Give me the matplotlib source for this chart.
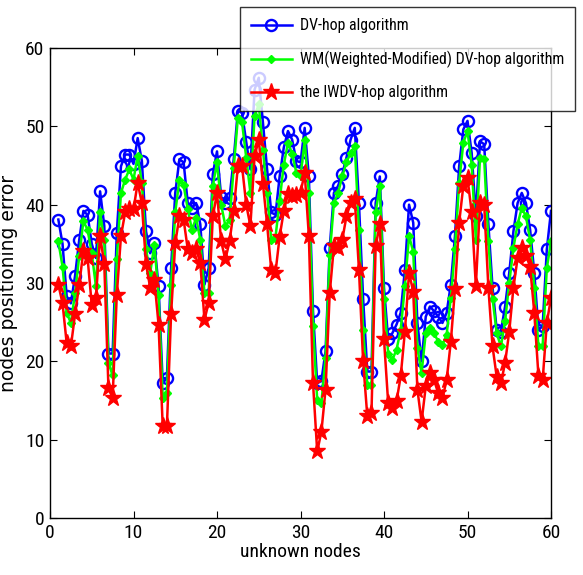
import numpy as np
import matplotlib
matplotlib.use("Agg")
import matplotlib.pyplot as plt
from matplotlib import font_manager

# ---------------- data ----------------
x_nodes = np.arange(1, 60.5, 0.5)

dv_hop = [
    38.1, 35, 28.3, 27.4, 30.9, 35.5, 39.2, 38.7, 35, 33.2, 41.7, 37.3, 21, 21, 36.4, 44.9, 46.4, 46.4, 45.2, 48.5,
    45.6, 36.6, 33.8, 35.1, 29.6, 17.2, 17.9, 31.9, 41.5, 45.8, 45.4, 40.2, 39.6, 40.2, 37.5, 29.8, 31.9, 43.9, 46.8,
    41, 40.2, 40.9, 45.8, 52, 51.7, 48, 44.5, 54.7, 56.2,
    50.5, 44.5, 39, 38.7, 43.6, 47.3, 49.4, 48.3, 45.6, 45.4, 49.8, 43.6,
    26.4, 17.2, 17.5, 21.3, 34.5, 41.5, 42.4, 43.9, 46, 48.3, 49.8, 40.2, 28, 18.7, 18.7, 40.2, 43.6, 29.4, 22.8, 23.6,
    24.7, 26.2, 31.7, 40, 37.7, 24.9, 20, 25.7, 27, 26.4, 25.7, 24.9, 26.2, 29.8, 36, 44.9, 49.6, 50.7,
    46.6, 38.5, 48.1, 47.7, 37.5, 29.4, 24, 23.8, 27, 31.3, 36.6, 40.2, 41.5, 40.2, 36.8, 31.3, 24, 24.5, 34.3, 39.2,
]

wm_dv_hop = [
    35.3, 32.1, 26.2, 24.9, 28.7, 33.4, 37.9, 36.8, 33.8, 29.6, 39, 35.5, 19.8, 18.2, 33, 41.5, 43.2, 44.5, 43.2, 46.2,
    42.8, 34.3, 31.3, 34.9, 28.5, 15.3, 15.9, 29.8, 39, 43.2, 42.5, 39.4, 36.8, 38.3, 35.5, 28.7, 28.7, 42.4, 45.4,
    40, 37.3, 38, 44.7, 51.1, 50.5, 46, 41.5, 51.3, 52.8,
    47, 41.5, 35.5, 35.8, 40.5, 45.1, 47.9, 46.5, 44.1, 43.6, 48.2, 41.5,
    24.5, 15.1, 14.7, 20.4, 33.6, 40.2, 41.5, 43.6, 45.4, 46.6, 47.5, 36.8, 24, 17, 17, 39, 42.4, 27.9, 21, 20.2,
    21.5, 24, 29.6, 36, 34, 21.7, 18.5, 23.6, 24.3, 23.6, 22.5, 22.1, 23.4, 28.1, 34.3, 42.8, 47.9, 49.4,
    45.1, 35.5, 46, 45.8, 35.3, 28, 23.6, 21.9, 25.1, 30, 34.5, 37.5, 39.6, 38.5, 35.5, 29.4, 21.9, 22, 31.9, 35.3,
]

iwdv_hop = [
    29.8, 27.4, 22.3, 21.9, 26, 29.8, 34.1, 33.2, 27.2, 28.1, 36, 32.4, 16.6, 15.3, 28.5, 36, 39, 39.4, 39.4, 42.8,
    40.2, 32.4, 29.4, 30.4, 24.7, 11.7, 11.7, 26, 35.1, 38.5, 38.1, 34.3, 33.8, 34.3, 32.6, 25.3, 27.5, 38.5, 41.5,
    35.3, 33, 35.3, 39.2, 44.9, 44.9, 40, 37.3, 46.2, 48.3,
    42.7, 37.5, 31.6, 31.3, 35.9, 39.2, 41.4, 41.1, 41.2, 41.5, 44.1, 36,
    17.2, 8.5, 11, 16.4, 28.7, 34.7, 34.5, 35.5, 38.5, 40.2, 40.7, 31.7, 20, 13, 13.4, 34.7, 37.5, 22.8, 14.7, 14,
    14.9, 18.1, 23.8, 31.3, 28.9, 16.4, 12.3, 16.8, 18.5, 17.6, 15.9, 15.3, 17.6, 22.5, 29.2, 37.7, 42.4, 43.4,
    39, 29.6, 40.2, 40, 29.4, 21.9, 18, 17.2, 19.8, 23.8, 29.4, 33.2, 34.5, 33.5, 32.1, 26.2, 18.1, 17.6, 24.9, 28.1,
]

series_labels = ["DV-hop algorithm",
                 "WM(Weighted-Modified) DV-hop algorithm",
                 "the IWDV-hop algorithm"]
x_ticks = [0, 10, 20, 30, 40, 50, 60]
y_ticks = [0, 10, 20, 30, 40, 50, 60]
x_label = "unknown nodes"
y_label = "nodes positioning error"

# ---------------- style ----------------
names = {f.name for f in font_manager.fontManager.ttflist}
narrow = None
for cand in ["Liberation Sans Narrow", "Roboto Condensed", "Archivo Narrow", "Asap Condensed"]:
    if cand in names:
        narrow = cand
        break
if narrow is None:
    plt.rcParams["font.family"] = ["DejaVu Sans"]
    plt.rcParams["font.stretch"] = "condensed"
else:
    plt.rcParams["font.family"] = [narrow, "DejaVu Sans"]

fig = plt.figure(figsize=(5.83, 5.75), dpi=100)
ax = fig.add_axes([50 / 583, 1 - 518 / 575, (551 - 50) / 583, (518 - 48) / 575])

l1, = ax.plot(x_nodes, dv_hop, color="#0000ff", lw=1.8, marker="o", ms=8,
              mfc="none", mec="#0000ff", mew=1.7, label=series_labels[0])
l2, = ax.plot(x_nodes, wm_dv_hop, color="#00ff00", lw=1.8, marker="D", ms=4,
              mfc="#00ff00", mec="#00ff00", label=series_labels[1])
l3, = ax.plot(x_nodes, iwdv_hop, color="#ff0000", lw=1.8, marker="*", ms=12.5,
              mfc="#ff0000", mec="#ff0000", label=series_labels[2])

ax.set_xlim(0, 60)
ax.set_ylim(0, 60)
ax.set_xticks(x_ticks)
ax.set_yticks(y_ticks)
ax.tick_params(direction="in", length=5, width=0.8, top=True, right=True,
               labelsize=14, pad=4)
for s in ax.spines.values():
    s.set_linewidth(1.0)

ax.set_xlabel(x_label, fontsize=14, labelpad=1)
ax.set_ylabel(y_label, fontsize=13.5, labelpad=5,
              family="DejaVu Sans", stretch="normal")

leg = fig.legend(handles=[l1, l2, l3], loc="upper right",
                 bbox_to_anchor=(0.992, 0.993), fontsize=11.4,
                 frameon=True, fancybox=False, edgecolor="black",
                 handlelength=2.6, borderpad=0.7, labelspacing=1.1,
                 handletextpad=0.5, borderaxespad=0.2)
leg.get_frame().set_linewidth(1.0)
leg.set_zorder(10)

fig.savefig("out.png", dpi=100)
